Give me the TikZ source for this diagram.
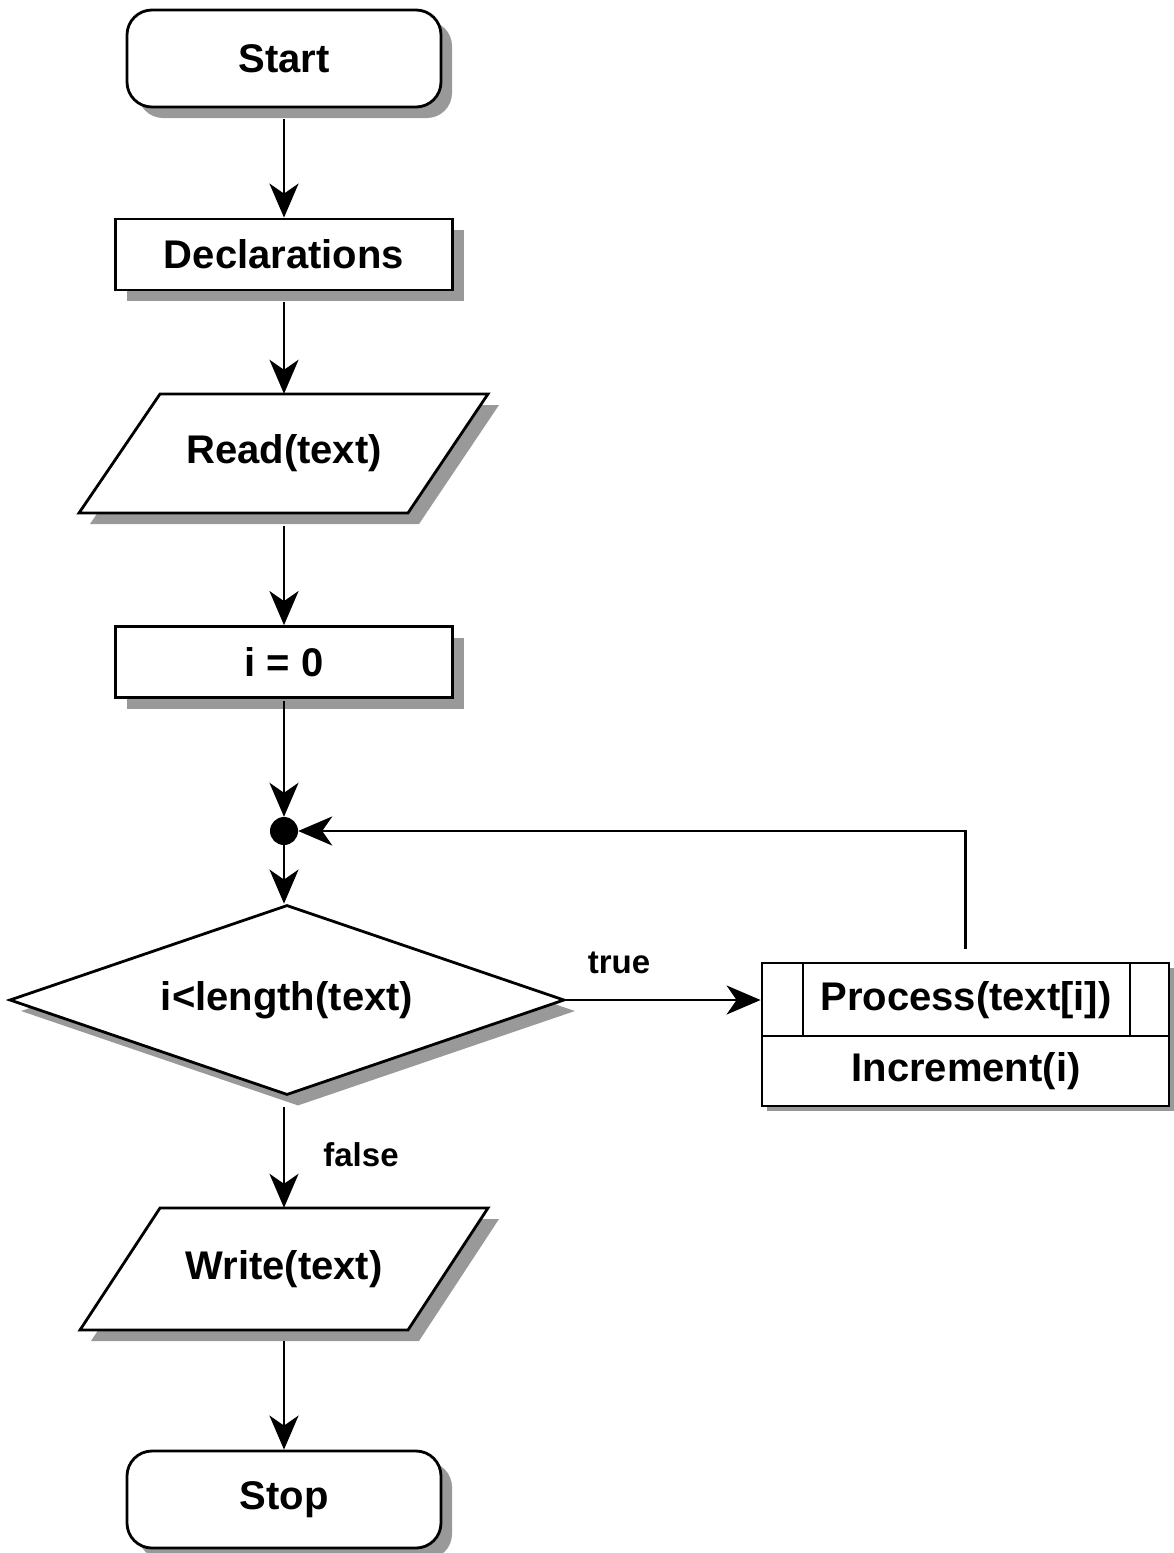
\documentclass[tikz,border=0pt]{standalone}
\usepackage{fontspec}
\setmainfont{Liberation Sans}
\usetikzlibrary{arrows.meta,shapes.geometric,shadows}
\begin{document}
\begin{tikzpicture}[x=1pt,y=-1pt,
  outline/.style={draw, line width=2.8pt, fill=white},
  txt/.style={font=\bfseries\fontsize{40}{45}\selectfont},
  tag/.style={font=\bfseries\fontsize{33}{38}\selectfont},
  shadowcol/.style={fill=black!40},
  dropped/.style={drop shadow={shadow xshift=11pt, shadow yshift=-11pt, fill=black!40, opacity=1}},
  terminal/.style={outline, dropped, rounded corners=25pt, minimum width=314pt, minimum height=97pt, txt},
  stepbox/.style={outline, dropped, minimum width=337pt, minimum height=71pt, txt},
  flow/.style={line width=2.7pt, -{Stealth[length=34pt,width=29pt,inset=10pt]}},
]
\useasboundingbox (0,0) rectangle (1174,1553);

% terminals and plain steps
\node[terminal] (start) at (284,58.5) {Start};
\node[stepbox] (decl) at (284,254.5) {Declarations};

% input parallelogram
\fill[shadowcol] (171,405) -- (499,405) -- (419,524) -- (90,524) -- cycle;
\draw[outline] (160,394) -- (488,394) -- (408,513) -- (79,513) -- cycle;
\node[txt, minimum width=250pt, minimum height=119pt] (read) at (284,453.5) {Read(text)};

\node[stepbox] (init) at (284,662) {i = 0};

% loop junction
\node[circle, fill, inner sep=0pt, minimum size=28pt] (join) at (284,831) {};

% decision
\node[diamond, outline, dropped, minimum width=555pt, minimum height=190pt,
      aspect=2.92, inner sep=0pt, txt] (cond) at (287,1000) {i<length(text)};

% loop body
\node[outline, drop shadow={shadow xshift=5pt, shadow yshift=-5pt, fill=black!40, opacity=1},
      minimum width=407pt, minimum height=143pt] (proc) at (965.5,1034.5) {};
\draw[line width=2.8pt] (762,1036) -- (1169,1036);
\draw[line width=2.2pt] (803,963) -- (803,1036);
\draw[line width=2.2pt] (1130,963) -- (1130,1036);
\node[txt] (ptext) at (966,1000) {Process(text[i])};
\node[txt] (itext) at (966,1071) {Increment(i)};

% output parallelogram
\fill[shadowcol] (171,1219) -- (499,1219) -- (419,1341) -- (91,1341) -- cycle;
\draw[outline] (160,1208) -- (488,1208) -- (408,1330) -- (80,1330) -- cycle;
\node[txt, minimum width=250pt, minimum height=122pt] (write) at (284,1269) {Write(text)};

\node[terminal] (stop) at (284,1499.5) {Stop};

% connectors
\draw[flow, shorten <=11pt] (start) -- (decl);
\draw[flow, shorten <=11pt] (decl) -- (read);
\draw[flow, shorten <=13pt] (read) -- (init);
\draw[flow, shorten <=2pt] (init) -- (join);
\draw[flow] (join) -- (join |- cond.north);
\draw[flow] (cond.east) -- (cond.east -| proc.west);
\node[tag] (truelbl) at (619,963) {true};
\draw[flow, shorten <=11pt] (join |- cond.south) -- (join |- write.north);
\node[tag] (falselbl) at (361,1155) {false};
\draw[flow, shorten <=11pt] (write) -- (stop);
\draw[flow, shorten <=13pt] (proc.north) |- (join);
\end{tikzpicture}
\end{document}
